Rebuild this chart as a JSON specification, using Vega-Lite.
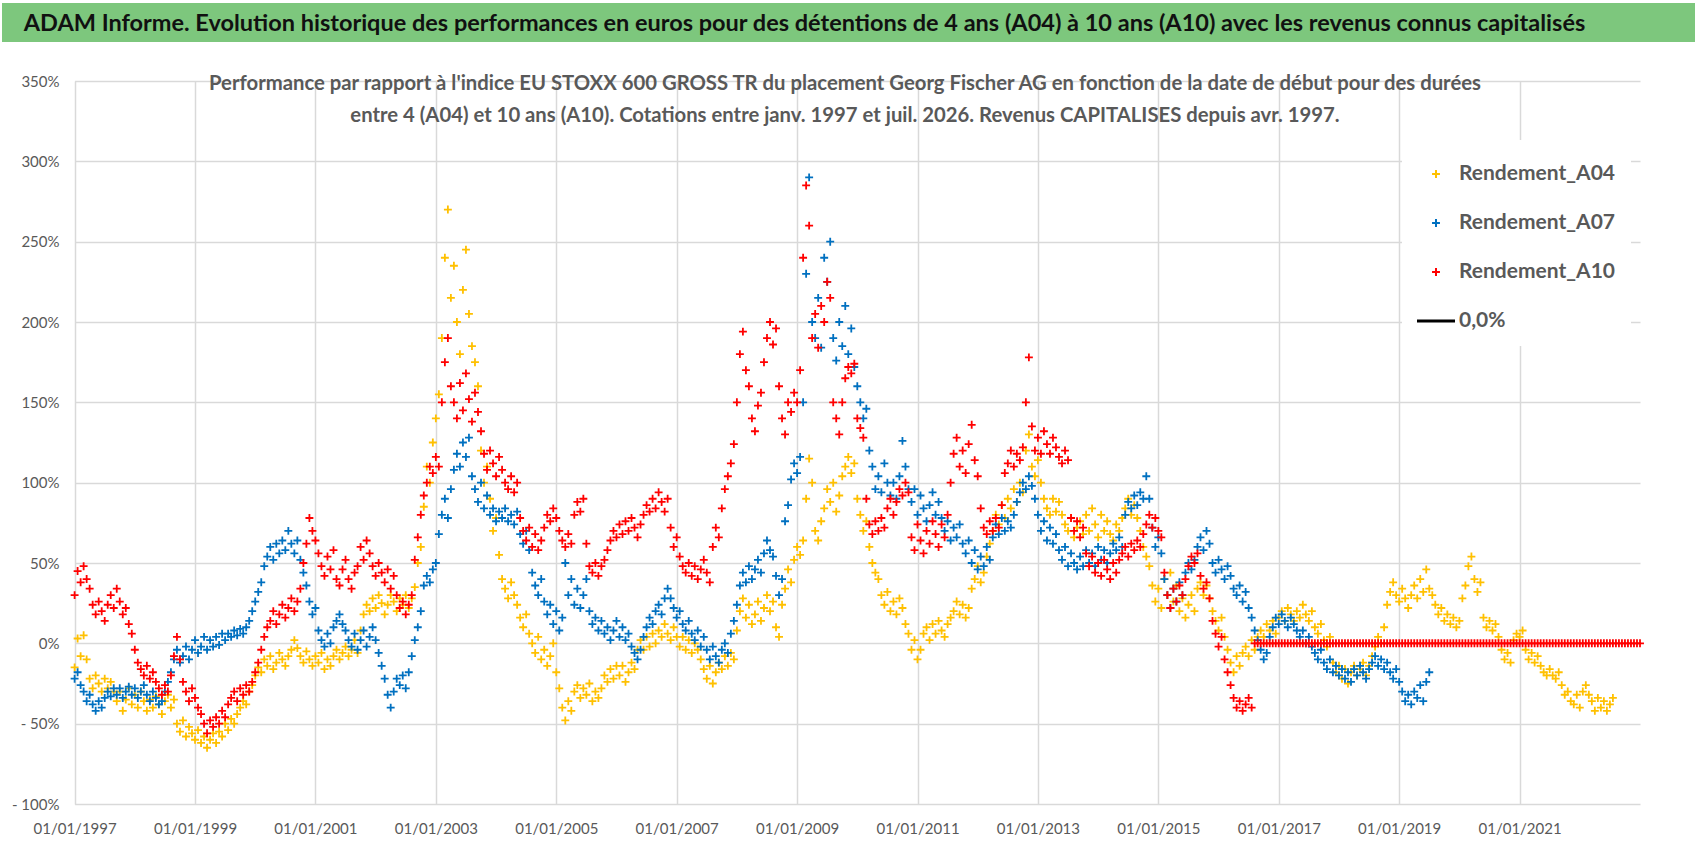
{
  "$schema": "https://vega.github.io/schema/vega-lite/v6.json",
  "background": "white",
  "padding": {"left": 2, "top": 3, "right": 3, "bottom": 0},
  "config": {
    "font": "Lato",
    "view": {"stroke": null}
  },
  "datasets": {
    "a04": [
      {"t":1997.00,"v":-15},{"t":1997.05,"v":3},{"t":1997.10,"v":-8},{"t":1997.15,"v":5},{"t":1997.20,"v":-10},{"t":1997.25,"v":-22},{"t":1997.30,"v":-28},{"t":1997.35,"v":-20},{"t":1997.40,"v":-25},{"t":1997.45,"v":-30},
      {"t":1997.50,"v":-22},{"t":1997.55,"v":-28},{"t":1997.60,"v":-24},{"t":1997.65,"v":-30},{"t":1997.70,"v":-36},{"t":1997.75,"v":-30},{"t":1997.80,"v":-42},{"t":1997.85,"v":-35},{"t":1997.90,"v":-28},{"t":1997.95,"v":-38},
      {"t":1998.00,"v":-32},{"t":1998.05,"v":-40},{"t":1998.10,"v":-30},{"t":1998.15,"v":-36},{"t":1998.20,"v":-42},{"t":1998.25,"v":-35},{"t":1998.30,"v":-40},{"t":1998.35,"v":-33},{"t":1998.40,"v":-38},{"t":1998.45,"v":-44},
      {"t":1998.50,"v":-36},{"t":1998.55,"v":-32},{"t":1998.60,"v":-40},{"t":1998.65,"v":-35},{"t":1998.70,"v":-50},{"t":1998.75,"v":-55},{"t":1998.80,"v":-48},{"t":1998.85,"v":-58},{"t":1998.90,"v":-52},{"t":1998.95,"v":-56},
      {"t":1999.00,"v":-60},{"t":1999.05,"v":-54},{"t":1999.10,"v":-62},{"t":1999.15,"v":-58},{"t":1999.20,"v":-65},{"t":1999.25,"v":-60},{"t":1999.30,"v":-56},{"t":1999.35,"v":-62},{"t":1999.40,"v":-55},{"t":1999.45,"v":-58},
      {"t":1999.50,"v":-50},{"t":1999.55,"v":-54},{"t":1999.60,"v":-47},{"t":1999.65,"v":-50},{"t":1999.70,"v":-44},{"t":1999.75,"v":-40},{"t":1999.80,"v":-36},{"t":1999.85,"v":-38},{"t":1999.90,"v":-30},{"t":1999.95,"v":-26},
      {"t":2000.00,"v":-20},{"t":2000.05,"v":-15},{"t":2000.10,"v":-18},{"t":2000.15,"v":-10},{"t":2000.20,"v":-14},{"t":2000.25,"v":-8},{"t":2000.30,"v":-16},{"t":2000.35,"v":-12},{"t":2000.40,"v":-6},{"t":2000.45,"v":-10},
      {"t":2000.50,"v":-14},{"t":2000.55,"v":-8},{"t":2000.60,"v":-4},{"t":2000.65,"v":2},{"t":2000.70,"v":-3},{"t":2000.75,"v":-8},{"t":2000.80,"v":-12},{"t":2000.85,"v":-5},{"t":2000.90,"v":-10},{"t":2000.95,"v":-14},
      {"t":2001.00,"v":-8},{"t":2001.05,"v":-12},{"t":2001.10,"v":-6},{"t":2001.15,"v":-16},{"t":2001.20,"v":-10},{"t":2001.25,"v":-14},{"t":2001.30,"v":-8},{"t":2001.35,"v":-4},{"t":2001.40,"v":-10},{"t":2001.45,"v":-6},
      {"t":2001.50,"v":-2},{"t":2001.55,"v":-8},{"t":2001.60,"v":-4},{"t":2001.65,"v":2},{"t":2001.70,"v":-6},{"t":2001.75,"v":8},{"t":2001.80,"v":18},{"t":2001.85,"v":24},{"t":2001.90,"v":20},{"t":2001.95,"v":28},
      {"t":2002.00,"v":22},{"t":2002.05,"v":30},{"t":2002.10,"v":25},{"t":2002.15,"v":18},{"t":2002.20,"v":24},{"t":2002.25,"v":30},{"t":2002.30,"v":26},{"t":2002.35,"v":20},{"t":2002.40,"v":28},{"t":2002.45,"v":24},
      {"t":2002.50,"v":30},{"t":2002.55,"v":22},{"t":2002.60,"v":28},{"t":2002.65,"v":35},{"t":2002.70,"v":50},{"t":2002.75,"v":60},{"t":2002.80,"v":85},{"t":2002.85,"v":110},{"t":2002.90,"v":100},{"t":2002.95,"v":125},
      {"t":2003.00,"v":140},{"t":2003.05,"v":155},{"t":2003.10,"v":190},{"t":2003.15,"v":240},{"t":2003.20,"v":270},{"t":2003.25,"v":215},{"t":2003.30,"v":235},{"t":2003.35,"v":200},{"t":2003.40,"v":180},{"t":2003.45,"v":220},
      {"t":2003.50,"v":245},{"t":2003.55,"v":205},{"t":2003.60,"v":185},{"t":2003.65,"v":175},{"t":2003.70,"v":160},{"t":2003.75,"v":120},{"t":2003.80,"v":100},{"t":2003.85,"v":110},{"t":2003.90,"v":90},{"t":2003.95,"v":70},
      {"t":2004.00,"v":78},{"t":2004.05,"v":55},{"t":2004.10,"v":40},{"t":2004.15,"v":34},{"t":2004.20,"v":28},{"t":2004.25,"v":38},{"t":2004.30,"v":30},{"t":2004.35,"v":24},{"t":2004.40,"v":16},{"t":2004.45,"v":10},
      {"t":2004.50,"v":18},{"t":2004.55,"v":6},{"t":2004.60,"v":0},{"t":2004.65,"v":-6},{"t":2004.70,"v":4},{"t":2004.75,"v":-10},{"t":2004.80,"v":-4},{"t":2004.85,"v":-14},{"t":2004.90,"v":-8},{"t":2004.95,"v":0},
      {"t":2005.00,"v":-18},{"t":2005.05,"v":-28},{"t":2005.10,"v":-40},{"t":2005.15,"v":-48},{"t":2005.20,"v":-36},{"t":2005.25,"v":-42},{"t":2005.30,"v":-30},{"t":2005.35,"v":-26},{"t":2005.40,"v":-34},{"t":2005.45,"v":-28},
      {"t":2005.50,"v":-32},{"t":2005.55,"v":-25},{"t":2005.60,"v":-36},{"t":2005.65,"v":-30},{"t":2005.70,"v":-34},{"t":2005.75,"v":-28},{"t":2005.80,"v":-20},{"t":2005.85,"v":-24},{"t":2005.90,"v":-16},{"t":2005.95,"v":-22},
      {"t":2006.00,"v":-14},{"t":2006.05,"v":-20},{"t":2006.10,"v":-14},{"t":2006.15,"v":-24},{"t":2006.20,"v":-18},{"t":2006.25,"v":-12},{"t":2006.30,"v":-16},{"t":2006.35,"v":-4},{"t":2006.40,"v":2},{"t":2006.45,"v":-4},
      {"t":2006.50,"v":4},{"t":2006.55,"v":-2},{"t":2006.60,"v":6},{"t":2006.65,"v":0},{"t":2006.70,"v":8},{"t":2006.75,"v":4},{"t":2006.80,"v":12},{"t":2006.85,"v":6},{"t":2006.90,"v":2},{"t":2006.95,"v":10},
      {"t":2007.00,"v":4},{"t":2007.05,"v":-2},{"t":2007.10,"v":4},{"t":2007.15,"v":-4},{"t":2007.20,"v":2},{"t":2007.25,"v":-6},{"t":2007.30,"v":0},{"t":2007.35,"v":-4},{"t":2007.40,"v":-10},{"t":2007.45,"v":-16},
      {"t":2007.50,"v":-22},{"t":2007.55,"v":-14},{"t":2007.60,"v":-25},{"t":2007.65,"v":-18},{"t":2007.70,"v":-12},{"t":2007.75,"v":-16},{"t":2007.80,"v":-8},{"t":2007.85,"v":-14},{"t":2007.90,"v":-6},{"t":2007.95,"v":-10},
      {"t":2008.00,"v":8},{"t":2008.05,"v":20},{"t":2008.10,"v":28},{"t":2008.15,"v":16},{"t":2008.20,"v":24},{"t":2008.25,"v":12},{"t":2008.30,"v":18},{"t":2008.35,"v":26},{"t":2008.40,"v":14},{"t":2008.45,"v":22},
      {"t":2008.50,"v":30},{"t":2008.55,"v":20},{"t":2008.60,"v":26},{"t":2008.65,"v":10},{"t":2008.70,"v":4},{"t":2008.75,"v":24},{"t":2008.80,"v":34},{"t":2008.85,"v":46},{"t":2008.90,"v":38},{"t":2008.95,"v":52},
      {"t":2009.00,"v":60},{"t":2009.05,"v":55},{"t":2009.10,"v":64},{"t":2009.15,"v":90},{"t":2009.20,"v":115},{"t":2009.25,"v":100},{"t":2009.30,"v":70},{"t":2009.35,"v":64},{"t":2009.40,"v":76},{"t":2009.45,"v":84},
      {"t":2009.50,"v":96},{"t":2009.55,"v":88},{"t":2009.60,"v":100},{"t":2009.65,"v":82},{"t":2009.70,"v":92},{"t":2009.75,"v":104},{"t":2009.80,"v":110},{"t":2009.85,"v":116},{"t":2009.90,"v":106},{"t":2009.95,"v":112},
      {"t":2010.00,"v":90},{"t":2010.05,"v":80},{"t":2010.10,"v":70},{"t":2010.15,"v":76},{"t":2010.20,"v":60},{"t":2010.25,"v":50},{"t":2010.30,"v":44},{"t":2010.35,"v":40},{"t":2010.40,"v":30},{"t":2010.45,"v":24},
      {"t":2010.50,"v":32},{"t":2010.55,"v":20},{"t":2010.60,"v":26},{"t":2010.65,"v":18},{"t":2010.70,"v":28},{"t":2010.75,"v":22},{"t":2010.80,"v":12},{"t":2010.85,"v":6},{"t":2010.90,"v":-4},{"t":2010.95,"v":2},
      {"t":2011.00,"v":-10},{"t":2011.05,"v":-4},{"t":2011.10,"v":6},{"t":2011.15,"v":10},{"t":2011.20,"v":2},{"t":2011.25,"v":12},{"t":2011.30,"v":6},{"t":2011.35,"v":14},{"t":2011.40,"v":8},{"t":2011.45,"v":4},
      {"t":2011.50,"v":12},{"t":2011.55,"v":16},{"t":2011.60,"v":20},{"t":2011.65,"v":26},{"t":2011.70,"v":18},{"t":2011.75,"v":24},{"t":2011.80,"v":16},{"t":2011.85,"v":22},{"t":2011.90,"v":34},{"t":2011.95,"v":40},
      {"t":2012.00,"v":48},{"t":2012.05,"v":38},{"t":2012.10,"v":44},{"t":2012.15,"v":54},{"t":2012.20,"v":62},{"t":2012.25,"v":70},{"t":2012.30,"v":80},{"t":2012.35,"v":74},{"t":2012.40,"v":86},{"t":2012.45,"v":78},
      {"t":2012.50,"v":90},{"t":2012.55,"v":84},{"t":2012.60,"v":96},{"t":2012.65,"v":88},{"t":2012.70,"v":100},{"t":2012.75,"v":94},{"t":2012.80,"v":120},{"t":2012.85,"v":130},{"t":2012.90,"v":110},{"t":2012.95,"v":104},
      {"t":2013.00,"v":114},{"t":2013.05,"v":100},{"t":2013.10,"v":90},{"t":2013.15,"v":84},{"t":2013.20,"v":80},{"t":2013.25,"v":90},{"t":2013.30,"v":82},{"t":2013.35,"v":88},{"t":2013.40,"v":80},{"t":2013.45,"v":74},
      {"t":2013.50,"v":70},{"t":2013.55,"v":78},{"t":2013.60,"v":66},{"t":2013.65,"v":72},{"t":2013.70,"v":76},{"t":2013.75,"v":68},{"t":2013.80,"v":80},{"t":2013.85,"v":70},{"t":2013.90,"v":84},{"t":2013.95,"v":74},
      {"t":2014.00,"v":66},{"t":2014.05,"v":80},{"t":2014.10,"v":70},{"t":2014.15,"v":76},{"t":2014.20,"v":68},{"t":2014.25,"v":64},{"t":2014.30,"v":74},{"t":2014.35,"v":70},{"t":2014.40,"v":78},{"t":2014.45,"v":84},
      {"t":2014.50,"v":90},{"t":2014.55,"v":80},{"t":2014.60,"v":86},{"t":2014.65,"v":78},{"t":2014.70,"v":70},{"t":2014.75,"v":60},{"t":2014.80,"v":54},{"t":2014.85,"v":48},{"t":2014.90,"v":36},{"t":2014.95,"v":26},
      {"t":2015.00,"v":34},{"t":2015.05,"v":22},{"t":2015.10,"v":40},{"t":2015.15,"v":30},{"t":2015.20,"v":44},{"t":2015.25,"v":26},{"t":2015.30,"v":36},{"t":2015.35,"v":20},{"t":2015.40,"v":28},{"t":2015.45,"v":16},
      {"t":2015.50,"v":24},{"t":2015.55,"v":30},{"t":2015.60,"v":20},{"t":2015.65,"v":34},{"t":2015.70,"v":38},{"t":2015.75,"v":30},{"t":2015.80,"v":36},{"t":2015.85,"v":28},{"t":2015.90,"v":20},{"t":2015.95,"v":14},
      {"t":2016.00,"v":8},{"t":2016.05,"v":16},{"t":2016.10,"v":4},{"t":2016.15,"v":-4},{"t":2016.20,"v":-12},{"t":2016.25,"v":-18},{"t":2016.30,"v":-8},{"t":2016.35,"v":-14},{"t":2016.40,"v":-6},{"t":2016.45,"v":-2},
      {"t":2016.50,"v":-8},{"t":2016.55,"v":2},{"t":2016.60,"v":-4},{"t":2016.65,"v":4},{"t":2016.70,"v":8},{"t":2016.75,"v":4},{"t":2016.80,"v":12},{"t":2016.85,"v":8},{"t":2016.90,"v":14},{"t":2016.95,"v":6},
      {"t":2017.00,"v":16},{"t":2017.05,"v":20},{"t":2017.10,"v":14},{"t":2017.15,"v":22},{"t":2017.20,"v":18},{"t":2017.25,"v":14},{"t":2017.30,"v":20},{"t":2017.35,"v":16},{"t":2017.40,"v":24},{"t":2017.45,"v":18},
      {"t":2017.50,"v":14},{"t":2017.55,"v":20},{"t":2017.60,"v":10},{"t":2017.65,"v":6},{"t":2017.70,"v":12},{"t":2017.75,"v":2},{"t":2017.80,"v":-2},{"t":2017.85,"v":4},{"t":2017.90,"v":-12},{"t":2017.95,"v":-18},
      {"t":2018.00,"v":-14},{"t":2018.05,"v":-22},{"t":2018.10,"v":-16},{"t":2018.15,"v":-25},{"t":2018.20,"v":-18},{"t":2018.25,"v":-14},{"t":2018.30,"v":-20},{"t":2018.35,"v":-16},{"t":2018.40,"v":-12},{"t":2018.45,"v":-20},
      {"t":2018.50,"v":-14},{"t":2018.55,"v":-8},{"t":2018.60,"v":-2},{"t":2018.65,"v":4},{"t":2018.70,"v":0},{"t":2018.75,"v":10},{"t":2018.80,"v":24},{"t":2018.85,"v":32},{"t":2018.90,"v":38},{"t":2018.95,"v":30},
      {"t":2019.00,"v":26},{"t":2019.05,"v":34},{"t":2019.10,"v":28},{"t":2019.15,"v":22},{"t":2019.20,"v":30},{"t":2019.25,"v":36},{"t":2019.30,"v":28},{"t":2019.35,"v":40},{"t":2019.40,"v":32},{"t":2019.45,"v":46},
      {"t":2019.50,"v":34},{"t":2019.55,"v":30},{"t":2019.60,"v":24},{"t":2019.65,"v":18},{"t":2019.70,"v":22},{"t":2019.75,"v":14},{"t":2019.80,"v":18},{"t":2019.85,"v":12},{"t":2019.90,"v":16},{"t":2019.95,"v":10},
      {"t":2020.00,"v":14},{"t":2020.05,"v":28},{"t":2020.10,"v":36},{"t":2020.15,"v":48},{"t":2020.20,"v":54},{"t":2020.25,"v":40},{"t":2020.30,"v":32},{"t":2020.35,"v":38},{"t":2020.40,"v":16},{"t":2020.45,"v":10},
      {"t":2020.50,"v":14},{"t":2020.55,"v":8},{"t":2020.60,"v":12},{"t":2020.65,"v":4},{"t":2020.70,"v":-4},{"t":2020.75,"v":-10},{"t":2020.80,"v":-6},{"t":2020.85,"v":-12},{"t":2020.90,"v":2},{"t":2020.95,"v":6},
      {"t":2021.00,"v":4},{"t":2021.05,"v":8},{"t":2021.10,"v":-4},{"t":2021.15,"v":-10},{"t":2021.20,"v":-6},{"t":2021.25,"v":-12},{"t":2021.30,"v":-8},{"t":2021.35,"v":-14},{"t":2021.40,"v":-18},{"t":2021.45,"v":-20},
      {"t":2021.50,"v":-16},{"t":2021.55,"v":-20},{"t":2021.60,"v":-22},{"t":2021.65,"v":-18},{"t":2021.70,"v":-26},{"t":2021.75,"v":-32},{"t":2021.80,"v":-30},{"t":2021.85,"v":-36},{"t":2021.90,"v":-38},{"t":2021.95,"v":-32},
      {"t":2022.00,"v":-40},{"t":2022.05,"v":-30},{"t":2022.10,"v":-26},{"t":2022.15,"v":-32},{"t":2022.20,"v":-36},{"t":2022.25,"v":-42},{"t":2022.30,"v":-34},{"t":2022.35,"v":-40},{"t":2022.40,"v":-36},{"t":2022.45,"v":-42},
      {"t":2022.50,"v":-38},{"t":2022.55,"v":-34}
    ],
    "a07": [
      {"t":1997.00,"v":-22},{"t":1997.05,"v":-18},{"t":1997.10,"v":-26},{"t":1997.15,"v":-30},{"t":1997.20,"v":-36},{"t":1997.25,"v":-32},{"t":1997.30,"v":-38},{"t":1997.35,"v":-42},{"t":1997.40,"v":-36},{"t":1997.45,"v":-40},
      {"t":1997.50,"v":-34},{"t":1997.55,"v":-30},{"t":1997.60,"v":-33},{"t":1997.65,"v":-28},{"t":1997.70,"v":-32},{"t":1997.75,"v":-28},{"t":1997.80,"v":-34},{"t":1997.85,"v":-30},{"t":1997.90,"v":-27},{"t":1997.95,"v":-32},
      {"t":1998.00,"v":-28},{"t":1998.05,"v":-34},{"t":1998.10,"v":-30},{"t":1998.15,"v":-26},{"t":1998.20,"v":-32},{"t":1998.25,"v":-36},{"t":1998.30,"v":-30},{"t":1998.35,"v":-34},{"t":1998.40,"v":-38},{"t":1998.45,"v":-36},
      {"t":1998.50,"v":-30},{"t":1998.55,"v":-24},{"t":1998.60,"v":-18},{"t":1998.65,"v":-10},{"t":1998.70,"v":-4},{"t":1998.75,"v":-12},{"t":1998.80,"v":-8},{"t":1998.85,"v":-2},{"t":1998.90,"v":-10},{"t":1998.95,"v":-4},
      {"t":1999.00,"v":2},{"t":1999.05,"v":-6},{"t":1999.10,"v":-2},{"t":1999.15,"v":4},{"t":1999.20,"v":-4},{"t":1999.25,"v":2},{"t":1999.30,"v":-2},{"t":1999.35,"v":4},{"t":1999.40,"v":-1},{"t":1999.45,"v":6},
      {"t":1999.50,"v":2},{"t":1999.55,"v":6},{"t":1999.60,"v":4},{"t":1999.65,"v":8},{"t":1999.70,"v":5},{"t":1999.75,"v":9},{"t":1999.80,"v":6},{"t":1999.85,"v":10},{"t":1999.90,"v":14},{"t":1999.95,"v":20},
      {"t":2000.00,"v":26},{"t":2000.05,"v":32},{"t":2000.10,"v":38},{"t":2000.15,"v":48},{"t":2000.20,"v":54},{"t":2000.25,"v":60},{"t":2000.30,"v":52},{"t":2000.35,"v":62},{"t":2000.40,"v":56},{"t":2000.45,"v":64},
      {"t":2000.50,"v":58},{"t":2000.55,"v":70},{"t":2000.60,"v":62},{"t":2000.65,"v":56},{"t":2000.70,"v":64},{"t":2000.75,"v":52},{"t":2000.80,"v":44},{"t":2000.85,"v":36},{"t":2000.90,"v":26},{"t":2000.95,"v":18},
      {"t":2001.00,"v":22},{"t":2001.05,"v":8},{"t":2001.10,"v":2},{"t":2001.15,"v":-2},{"t":2001.20,"v":6},{"t":2001.25,"v":0},{"t":2001.30,"v":10},{"t":2001.35,"v":14},{"t":2001.40,"v":18},{"t":2001.45,"v":12},
      {"t":2001.50,"v":8},{"t":2001.55,"v":2},{"t":2001.60,"v":-2},{"t":2001.65,"v":6},{"t":2001.70,"v":-4},{"t":2001.75,"v":2},{"t":2001.80,"v":8},{"t":2001.85,"v":-2},{"t":2001.90,"v":4},{"t":2001.95,"v":10},
      {"t":2002.00,"v":2},{"t":2002.05,"v":-6},{"t":2002.10,"v":-14},{"t":2002.15,"v":-22},{"t":2002.20,"v":-32},{"t":2002.25,"v":-40},{"t":2002.30,"v":-30},{"t":2002.35,"v":-22},{"t":2002.40,"v":-26},{"t":2002.45,"v":-20},
      {"t":2002.50,"v":-28},{"t":2002.55,"v":-18},{"t":2002.60,"v":-8},{"t":2002.65,"v":2},{"t":2002.70,"v":10},{"t":2002.75,"v":20},{"t":2002.80,"v":36},{"t":2002.85,"v":42},{"t":2002.90,"v":38},{"t":2002.95,"v":46},
      {"t":2003.00,"v":50},{"t":2003.05,"v":68},{"t":2003.10,"v":80},{"t":2003.15,"v":90},{"t":2003.20,"v":78},{"t":2003.25,"v":96},{"t":2003.30,"v":108},{"t":2003.35,"v":118},{"t":2003.40,"v":110},{"t":2003.45,"v":125},
      {"t":2003.50,"v":116},{"t":2003.55,"v":128},{"t":2003.60,"v":104},{"t":2003.65,"v":96},{"t":2003.70,"v":88},{"t":2003.75,"v":100},{"t":2003.80,"v":84},{"t":2003.85,"v":92},{"t":2003.90,"v":80},{"t":2003.95,"v":84},
      {"t":2004.00,"v":76},{"t":2004.05,"v":82},{"t":2004.10,"v":78},{"t":2004.15,"v":84},{"t":2004.20,"v":76},{"t":2004.25,"v":80},{"t":2004.30,"v":74},{"t":2004.35,"v":82},{"t":2004.40,"v":68},{"t":2004.45,"v":62},
      {"t":2004.50,"v":70},{"t":2004.55,"v":58},{"t":2004.60,"v":44},{"t":2004.65,"v":36},{"t":2004.70,"v":30},{"t":2004.75,"v":40},{"t":2004.80,"v":26},{"t":2004.85,"v":18},{"t":2004.90,"v":24},{"t":2004.95,"v":12},
      {"t":2005.00,"v":20},{"t":2005.05,"v":8},{"t":2005.10,"v":16},{"t":2005.15,"v":50},{"t":2005.20,"v":30},{"t":2005.25,"v":40},{"t":2005.30,"v":24},{"t":2005.35,"v":34},{"t":2005.40,"v":22},{"t":2005.45,"v":30},
      {"t":2005.50,"v":40},{"t":2005.55,"v":20},{"t":2005.60,"v":12},{"t":2005.65,"v":16},{"t":2005.70,"v":8},{"t":2005.75,"v":14},{"t":2005.80,"v":6},{"t":2005.85,"v":10},{"t":2005.90,"v":2},{"t":2005.95,"v":8},
      {"t":2006.00,"v":14},{"t":2006.05,"v":4},{"t":2006.10,"v":10},{"t":2006.15,"v":2},{"t":2006.20,"v":6},{"t":2006.25,"v":-2},{"t":2006.30,"v":-6},{"t":2006.35,"v":-10},{"t":2006.40,"v":-4},{"t":2006.45,"v":4},
      {"t":2006.50,"v":10},{"t":2006.55,"v":16},{"t":2006.60,"v":12},{"t":2006.65,"v":20},{"t":2006.70,"v":24},{"t":2006.75,"v":18},{"t":2006.80,"v":28},{"t":2006.85,"v":34},{"t":2006.90,"v":28},{"t":2006.95,"v":22},
      {"t":2007.00,"v":16},{"t":2007.05,"v":20},{"t":2007.10,"v":12},{"t":2007.15,"v":8},{"t":2007.20,"v":14},{"t":2007.25,"v":6},{"t":2007.30,"v":2},{"t":2007.35,"v":8},{"t":2007.40,"v":-2},{"t":2007.45,"v":4},
      {"t":2007.50,"v":-4},{"t":2007.55,"v":-10},{"t":2007.60,"v":-2},{"t":2007.65,"v":-8},{"t":2007.70,"v":-12},{"t":2007.75,"v":-4},{"t":2007.80,"v":0},{"t":2007.85,"v":-6},{"t":2007.90,"v":6},{"t":2007.95,"v":14},
      {"t":2008.00,"v":24},{"t":2008.05,"v":36},{"t":2008.10,"v":44},{"t":2008.15,"v":38},{"t":2008.20,"v":48},{"t":2008.25,"v":40},{"t":2008.30,"v":46},{"t":2008.35,"v":52},{"t":2008.40,"v":44},{"t":2008.45,"v":56},
      {"t":2008.50,"v":64},{"t":2008.55,"v":58},{"t":2008.60,"v":54},{"t":2008.65,"v":42},{"t":2008.70,"v":30},{"t":2008.75,"v":40},{"t":2008.80,"v":76},{"t":2008.85,"v":86},{"t":2008.90,"v":102},{"t":2008.95,"v":112},
      {"t":2009.00,"v":106},{"t":2009.05,"v":116},{"t":2009.10,"v":150},{"t":2009.15,"v":230},{"t":2009.20,"v":290},{"t":2009.25,"v":200},{"t":2009.30,"v":190},{"t":2009.35,"v":215},{"t":2009.40,"v":184},{"t":2009.45,"v":240},
      {"t":2009.50,"v":225},{"t":2009.55,"v":250},{"t":2009.60,"v":190},{"t":2009.65,"v":176},{"t":2009.70,"v":200},{"t":2009.75,"v":185},{"t":2009.80,"v":210},{"t":2009.85,"v":180},{"t":2009.90,"v":196},{"t":2009.95,"v":172},
      {"t":2010.00,"v":160},{"t":2010.05,"v":150},{"t":2010.10,"v":140},{"t":2010.15,"v":146},{"t":2010.20,"v":120},{"t":2010.25,"v":110},{"t":2010.30,"v":96},{"t":2010.35,"v":104},{"t":2010.40,"v":94},{"t":2010.45,"v":112},
      {"t":2010.50,"v":100},{"t":2010.55,"v":92},{"t":2010.60,"v":100},{"t":2010.65,"v":90},{"t":2010.70,"v":104},{"t":2010.75,"v":126},{"t":2010.80,"v":110},{"t":2010.85,"v":96},{"t":2010.90,"v":88},{"t":2010.95,"v":96},
      {"t":2011.00,"v":80},{"t":2011.05,"v":92},{"t":2011.10,"v":84},{"t":2011.15,"v":76},{"t":2011.20,"v":86},{"t":2011.25,"v":94},{"t":2011.30,"v":80},{"t":2011.35,"v":88},{"t":2011.40,"v":78},{"t":2011.45,"v":70},
      {"t":2011.50,"v":76},{"t":2011.55,"v":64},{"t":2011.60,"v":72},{"t":2011.65,"v":66},{"t":2011.70,"v":74},{"t":2011.75,"v":62},{"t":2011.80,"v":56},{"t":2011.85,"v":64},{"t":2011.90,"v":50},{"t":2011.95,"v":58},
      {"t":2012.00,"v":46},{"t":2012.05,"v":54},{"t":2012.10,"v":48},{"t":2012.15,"v":60},{"t":2012.20,"v":52},{"t":2012.25,"v":66},{"t":2012.30,"v":74},{"t":2012.35,"v":68},{"t":2012.40,"v":78},{"t":2012.45,"v":70},
      {"t":2012.50,"v":76},{"t":2012.55,"v":72},{"t":2012.60,"v":80},{"t":2012.65,"v":88},{"t":2012.70,"v":94},{"t":2012.75,"v":100},{"t":2012.80,"v":96},{"t":2012.85,"v":104},{"t":2012.90,"v":98},{"t":2012.95,"v":90},
      {"t":2013.00,"v":80},{"t":2013.05,"v":70},{"t":2013.10,"v":76},{"t":2013.15,"v":64},{"t":2013.20,"v":72},{"t":2013.25,"v":62},{"t":2013.30,"v":68},{"t":2013.35,"v":58},{"t":2013.40,"v":52},{"t":2013.45,"v":60},
      {"t":2013.50,"v":48},{"t":2013.55,"v":56},{"t":2013.60,"v":50},{"t":2013.65,"v":46},{"t":2013.70,"v":54},{"t":2013.75,"v":48},{"t":2013.80,"v":58},{"t":2013.85,"v":50},{"t":2013.90,"v":56},{"t":2013.95,"v":48},
      {"t":2014.00,"v":60},{"t":2014.05,"v":52},{"t":2014.10,"v":58},{"t":2014.15,"v":50},{"t":2014.20,"v":56},{"t":2014.25,"v":62},{"t":2014.30,"v":58},{"t":2014.35,"v":66},{"t":2014.40,"v":60},{"t":2014.45,"v":80},
      {"t":2014.50,"v":88},{"t":2014.55,"v":84},{"t":2014.60,"v":92},{"t":2014.65,"v":86},{"t":2014.70,"v":94},{"t":2014.75,"v":90},{"t":2014.80,"v":104},{"t":2014.85,"v":90},{"t":2014.90,"v":72},{"t":2014.95,"v":60},
      {"t":2015.00,"v":66},{"t":2015.05,"v":56},{"t":2015.10,"v":40},{"t":2015.15,"v":30},{"t":2015.20,"v":22},{"t":2015.25,"v":34},{"t":2015.30,"v":26},{"t":2015.35,"v":38},{"t":2015.40,"v":30},{"t":2015.45,"v":44},
      {"t":2015.50,"v":50},{"t":2015.55,"v":46},{"t":2015.60,"v":52},{"t":2015.65,"v":60},{"t":2015.70,"v":66},{"t":2015.75,"v":58},{"t":2015.80,"v":70},{"t":2015.85,"v":62},{"t":2015.90,"v":50},{"t":2015.95,"v":44},
      {"t":2016.00,"v":52},{"t":2016.05,"v":46},{"t":2016.10,"v":40},{"t":2016.15,"v":48},{"t":2016.20,"v":42},{"t":2016.25,"v":34},{"t":2016.30,"v":30},{"t":2016.35,"v":36},{"t":2016.40,"v":26},{"t":2016.45,"v":32},
      {"t":2016.50,"v":22},{"t":2016.55,"v":16},{"t":2016.60,"v":8},{"t":2016.65,"v":2},{"t":2016.70,"v":-4},{"t":2016.75,"v":-10},{"t":2016.80,"v":-6},{"t":2016.85,"v":4},{"t":2016.90,"v":10},{"t":2016.95,"v":16},
      {"t":2017.00,"v":12},{"t":2017.05,"v":18},{"t":2017.10,"v":14},{"t":2017.15,"v":10},{"t":2017.20,"v":16},{"t":2017.25,"v":12},{"t":2017.30,"v":8},{"t":2017.35,"v":4},{"t":2017.40,"v":8},{"t":2017.45,"v":0},
      {"t":2017.50,"v":4},{"t":2017.55,"v":-2},{"t":2017.60,"v":-6},{"t":2017.65,"v":-10},{"t":2017.70,"v":-4},{"t":2017.75,"v":-12},{"t":2017.80,"v":-16},{"t":2017.85,"v":-10},{"t":2017.90,"v":-18},{"t":2017.95,"v":-14},
      {"t":2018.00,"v":-20},{"t":2018.05,"v":-16},{"t":2018.10,"v":-22},{"t":2018.15,"v":-18},{"t":2018.20,"v":-24},{"t":2018.25,"v":-16},{"t":2018.30,"v":-20},{"t":2018.35,"v":-14},{"t":2018.40,"v":-18},{"t":2018.45,"v":-22},
      {"t":2018.50,"v":-16},{"t":2018.55,"v":-12},{"t":2018.60,"v":-8},{"t":2018.65,"v":-14},{"t":2018.70,"v":-10},{"t":2018.75,"v":-16},{"t":2018.80,"v":-12},{"t":2018.85,"v":-18},{"t":2018.90,"v":-22},{"t":2018.95,"v":-16},
      {"t":2019.00,"v":-24},{"t":2019.05,"v":-30},{"t":2019.10,"v":-36},{"t":2019.15,"v":-32},{"t":2019.20,"v":-38},{"t":2019.25,"v":-30},{"t":2019.30,"v":-34},{"t":2019.35,"v":-26},{"t":2019.40,"v":-36},{"t":2019.45,"v":-24},
      {"t":2019.50,"v":-18}
    ],
    "a10": [
      {"t":1997.00,"v":30},{"t":1997.05,"v":45},{"t":1997.10,"v":38},{"t":1997.15,"v":48},{"t":1997.20,"v":40},{"t":1997.25,"v":34},{"t":1997.30,"v":24},{"t":1997.35,"v":18},{"t":1997.40,"v":26},{"t":1997.45,"v":20},
      {"t":1997.50,"v":14},{"t":1997.55,"v":24},{"t":1997.60,"v":30},{"t":1997.65,"v":22},{"t":1997.70,"v":34},{"t":1997.75,"v":26},{"t":1997.80,"v":18},{"t":1997.85,"v":22},{"t":1997.90,"v":12},{"t":1997.95,"v":6},
      {"t":1998.00,"v":-4},{"t":1998.05,"v":-12},{"t":1998.10,"v":-16},{"t":1998.15,"v":-20},{"t":1998.20,"v":-14},{"t":1998.25,"v":-22},{"t":1998.30,"v":-18},{"t":1998.35,"v":-24},{"t":1998.40,"v":-28},{"t":1998.45,"v":-32},
      {"t":1998.50,"v":-26},{"t":1998.55,"v":-30},{"t":1998.60,"v":-20},{"t":1998.65,"v":-8},{"t":1998.70,"v":4},{"t":1998.75,"v":-10},{"t":1998.80,"v":-24},{"t":1998.85,"v":-30},{"t":1998.90,"v":-36},{"t":1998.95,"v":-28},
      {"t":1999.00,"v":-34},{"t":1999.05,"v":-40},{"t":1999.10,"v":-44},{"t":1999.15,"v":-50},{"t":1999.20,"v":-56},{"t":1999.25,"v":-48},{"t":1999.30,"v":-52},{"t":1999.35,"v":-46},{"t":1999.40,"v":-50},{"t":1999.45,"v":-42},
      {"t":1999.50,"v":-46},{"t":1999.55,"v":-38},{"t":1999.60,"v":-34},{"t":1999.65,"v":-30},{"t":1999.70,"v":-36},{"t":1999.75,"v":-28},{"t":1999.80,"v":-32},{"t":1999.85,"v":-26},{"t":1999.90,"v":-30},{"t":1999.95,"v":-24},
      {"t":2000.00,"v":-18},{"t":2000.05,"v":-12},{"t":2000.10,"v":-4},{"t":2000.15,"v":4},{"t":2000.20,"v":10},{"t":2000.25,"v":14},{"t":2000.30,"v":20},{"t":2000.35,"v":12},{"t":2000.40,"v":18},{"t":2000.45,"v":24},
      {"t":2000.50,"v":16},{"t":2000.55,"v":22},{"t":2000.60,"v":28},{"t":2000.65,"v":20},{"t":2000.70,"v":26},{"t":2000.75,"v":34},{"t":2000.80,"v":50},{"t":2000.85,"v":62},{"t":2000.90,"v":78},{"t":2000.95,"v":70},
      {"t":2001.00,"v":64},{"t":2001.05,"v":56},{"t":2001.10,"v":48},{"t":2001.15,"v":42},{"t":2001.20,"v":54},{"t":2001.25,"v":46},{"t":2001.30,"v":58},{"t":2001.35,"v":40},{"t":2001.40,"v":36},{"t":2001.45,"v":46},
      {"t":2001.50,"v":52},{"t":2001.55,"v":40},{"t":2001.60,"v":34},{"t":2001.65,"v":44},{"t":2001.70,"v":48},{"t":2001.75,"v":60},{"t":2001.80,"v":52},{"t":2001.85,"v":64},{"t":2001.90,"v":56},{"t":2001.95,"v":48},
      {"t":2002.00,"v":42},{"t":2002.05,"v":50},{"t":2002.10,"v":44},{"t":2002.15,"v":38},{"t":2002.20,"v":46},{"t":2002.25,"v":34},{"t":2002.30,"v":42},{"t":2002.35,"v":30},{"t":2002.40,"v":22},{"t":2002.45,"v":26},
      {"t":2002.50,"v":18},{"t":2002.55,"v":24},{"t":2002.60,"v":30},{"t":2002.65,"v":52},{"t":2002.70,"v":66},{"t":2002.75,"v":80},{"t":2002.80,"v":92},{"t":2002.85,"v":100},{"t":2002.90,"v":110},{"t":2002.95,"v":106},
      {"t":2003.00,"v":116},{"t":2003.05,"v":110},{"t":2003.10,"v":150},{"t":2003.15,"v":175},{"t":2003.20,"v":190},{"t":2003.25,"v":160},{"t":2003.30,"v":150},{"t":2003.35,"v":140},{"t":2003.40,"v":162},{"t":2003.45,"v":145},
      {"t":2003.50,"v":168},{"t":2003.55,"v":152},{"t":2003.60,"v":138},{"t":2003.65,"v":156},{"t":2003.70,"v":144},{"t":2003.75,"v":132},{"t":2003.80,"v":118},{"t":2003.85,"v":108},{"t":2003.90,"v":120},{"t":2003.95,"v":112},
      {"t":2004.00,"v":104},{"t":2004.05,"v":116},{"t":2004.10,"v":108},{"t":2004.15,"v":100},{"t":2004.20,"v":96},{"t":2004.25,"v":104},{"t":2004.30,"v":94},{"t":2004.35,"v":100},{"t":2004.40,"v":78},{"t":2004.45,"v":70},
      {"t":2004.50,"v":64},{"t":2004.55,"v":72},{"t":2004.60,"v":60},{"t":2004.65,"v":68},{"t":2004.70,"v":58},{"t":2004.75,"v":64},{"t":2004.80,"v":72},{"t":2004.85,"v":80},{"t":2004.90,"v":76},{"t":2004.95,"v":84},
      {"t":2005.00,"v":78},{"t":2005.05,"v":70},{"t":2005.10,"v":64},{"t":2005.15,"v":60},{"t":2005.20,"v":68},{"t":2005.25,"v":62},{"t":2005.30,"v":80},{"t":2005.35,"v":88},{"t":2005.40,"v":82},{"t":2005.45,"v":90},
      {"t":2005.50,"v":62},{"t":2005.55,"v":48},{"t":2005.60,"v":44},{"t":2005.65,"v":50},{"t":2005.70,"v":42},{"t":2005.75,"v":48},{"t":2005.80,"v":52},{"t":2005.85,"v":58},{"t":2005.90,"v":64},{"t":2005.95,"v":70},
      {"t":2006.00,"v":66},{"t":2006.05,"v":74},{"t":2006.10,"v":68},{"t":2006.15,"v":76},{"t":2006.20,"v":70},{"t":2006.25,"v":78},{"t":2006.30,"v":72},{"t":2006.35,"v":66},{"t":2006.40,"v":74},{"t":2006.45,"v":80},
      {"t":2006.50,"v":86},{"t":2006.55,"v":82},{"t":2006.60,"v":90},{"t":2006.65,"v":84},{"t":2006.70,"v":94},{"t":2006.75,"v":88},{"t":2006.80,"v":82},{"t":2006.85,"v":90},{"t":2006.90,"v":72},{"t":2006.95,"v":60},
      {"t":2007.00,"v":66},{"t":2007.05,"v":54},{"t":2007.10,"v":48},{"t":2007.15,"v":44},{"t":2007.20,"v":50},{"t":2007.25,"v":42},{"t":2007.30,"v":48},{"t":2007.35,"v":40},{"t":2007.40,"v":46},{"t":2007.45,"v":52},
      {"t":2007.50,"v":44},{"t":2007.55,"v":38},{"t":2007.60,"v":60},{"t":2007.65,"v":72},{"t":2007.70,"v":66},{"t":2007.75,"v":84},{"t":2007.80,"v":96},{"t":2007.85,"v":104},{"t":2007.90,"v":112},{"t":2007.95,"v":124},
      {"t":2008.00,"v":150},{"t":2008.05,"v":180},{"t":2008.10,"v":194},{"t":2008.15,"v":170},{"t":2008.20,"v":160},{"t":2008.25,"v":140},{"t":2008.30,"v":132},{"t":2008.35,"v":148},{"t":2008.40,"v":156},{"t":2008.45,"v":175},
      {"t":2008.50,"v":190},{"t":2008.55,"v":200},{"t":2008.60,"v":186},{"t":2008.65,"v":196},{"t":2008.70,"v":160},{"t":2008.75,"v":140},{"t":2008.80,"v":130},{"t":2008.85,"v":150},{"t":2008.90,"v":144},{"t":2008.95,"v":156},
      {"t":2009.00,"v":150},{"t":2009.05,"v":170},{"t":2009.10,"v":240},{"t":2009.15,"v":285},{"t":2009.20,"v":260},{"t":2009.25,"v":190},{"t":2009.30,"v":205},{"t":2009.35,"v":184},{"t":2009.40,"v":210},{"t":2009.45,"v":200},
      {"t":2009.50,"v":225},{"t":2009.55,"v":215},{"t":2009.60,"v":150},{"t":2009.65,"v":140},{"t":2009.70,"v":130},{"t":2009.75,"v":150},{"t":2009.80,"v":165},{"t":2009.85,"v":172},{"t":2009.90,"v":168},{"t":2009.95,"v":174},
      {"t":2010.00,"v":140},{"t":2010.05,"v":134},{"t":2010.10,"v":128},{"t":2010.15,"v":90},{"t":2010.20,"v":74},{"t":2010.25,"v":68},{"t":2010.30,"v":76},{"t":2010.35,"v":70},{"t":2010.40,"v":78},{"t":2010.45,"v":72},
      {"t":2010.50,"v":84},{"t":2010.55,"v":90},{"t":2010.60,"v":80},{"t":2010.65,"v":88},{"t":2010.70,"v":96},{"t":2010.75,"v":92},{"t":2010.80,"v":100},{"t":2010.85,"v":94},{"t":2010.90,"v":66},{"t":2010.95,"v":58},
      {"t":2011.00,"v":74},{"t":2011.05,"v":64},{"t":2011.10,"v":56},{"t":2011.15,"v":70},{"t":2011.20,"v":62},{"t":2011.25,"v":76},{"t":2011.30,"v":68},{"t":2011.35,"v":60},{"t":2011.40,"v":74},{"t":2011.45,"v":66},
      {"t":2011.50,"v":80},{"t":2011.55,"v":100},{"t":2011.60,"v":118},{"t":2011.65,"v":128},{"t":2011.70,"v":110},{"t":2011.75,"v":120},{"t":2011.80,"v":106},{"t":2011.85,"v":124},{"t":2011.90,"v":136},{"t":2011.95,"v":114},
      {"t":2012.00,"v":104},{"t":2012.05,"v":84},{"t":2012.10,"v":72},{"t":2012.15,"v":68},{"t":2012.20,"v":76},{"t":2012.25,"v":70},{"t":2012.30,"v":78},{"t":2012.35,"v":72},{"t":2012.40,"v":86},{"t":2012.45,"v":106},
      {"t":2012.50,"v":112},{"t":2012.55,"v":120},{"t":2012.60,"v":110},{"t":2012.65,"v":118},{"t":2012.70,"v":114},{"t":2012.75,"v":122},{"t":2012.80,"v":150},{"t":2012.85,"v":178},{"t":2012.90,"v":135},{"t":2012.95,"v":120},
      {"t":2013.00,"v":128},{"t":2013.05,"v":118},{"t":2013.10,"v":132},{"t":2013.15,"v":124},{"t":2013.20,"v":118},{"t":2013.25,"v":128},{"t":2013.30,"v":122},{"t":2013.35,"v":116},{"t":2013.40,"v":112},{"t":2013.45,"v":120},
      {"t":2013.50,"v":114},{"t":2013.55,"v":78},{"t":2013.60,"v":70},{"t":2013.65,"v":76},{"t":2013.70,"v":66},{"t":2013.75,"v":72},{"t":2013.80,"v":56},{"t":2013.85,"v":48},{"t":2013.90,"v":54},{"t":2013.95,"v":44},
      {"t":2014.00,"v":50},{"t":2014.05,"v":42},{"t":2014.10,"v":52},{"t":2014.15,"v":46},{"t":2014.20,"v":40},{"t":2014.25,"v":50},{"t":2014.30,"v":44},{"t":2014.35,"v":52},{"t":2014.40,"v":56},{"t":2014.45,"v":60},
      {"t":2014.50,"v":54},{"t":2014.55,"v":62},{"t":2014.60,"v":58},{"t":2014.65,"v":64},{"t":2014.70,"v":60},{"t":2014.75,"v":68},{"t":2014.80,"v":74},{"t":2014.85,"v":80},{"t":2014.90,"v":72},{"t":2014.95,"v":78},
      {"t":2015.00,"v":70},{"t":2015.05,"v":66},{"t":2015.10,"v":44},{"t":2015.15,"v":30},{"t":2015.20,"v":22},{"t":2015.25,"v":34},{"t":2015.30,"v":26},{"t":2015.35,"v":36},{"t":2015.40,"v":30},{"t":2015.45,"v":40},
      {"t":2015.50,"v":48},{"t":2015.55,"v":54},{"t":2015.60,"v":50},{"t":2015.65,"v":56},{"t":2015.70,"v":42},{"t":2015.75,"v":34},{"t":2015.80,"v":38},{"t":2015.85,"v":28},{"t":2015.90,"v":14},{"t":2015.95,"v":6},
      {"t":2016.00,"v":-2},{"t":2016.05,"v":4},{"t":2016.10,"v":-10},{"t":2016.15,"v":-18},{"t":2016.20,"v":-26},{"t":2016.25,"v":-34},{"t":2016.30,"v":-40},{"t":2016.35,"v":-36},{"t":2016.40,"v":-42},{"t":2016.45,"v":-38},
      {"t":2016.50,"v":-34},{"t":2016.55,"v":-40},
      {"t":2016.60,"v":0},{"t":2016.65,"v":0},{"t":2016.70,"v":0},{"t":2016.75,"v":0},{"t":2016.80,"v":0},{"t":2016.85,"v":0},{"t":2016.90,"v":0},{"t":2016.95,"v":0},
      {"t":2017.00,"v":0},{"t":2017.05,"v":0},{"t":2017.10,"v":0},{"t":2017.15,"v":0},{"t":2017.20,"v":0},{"t":2017.25,"v":0},{"t":2017.30,"v":0},{"t":2017.35,"v":0},{"t":2017.40,"v":0},{"t":2017.45,"v":0},
      {"t":2017.50,"v":0},{"t":2017.55,"v":0},{"t":2017.60,"v":0},{"t":2017.65,"v":0},{"t":2017.70,"v":0},{"t":2017.75,"v":0},{"t":2017.80,"v":0},{"t":2017.85,"v":0},{"t":2017.90,"v":0},{"t":2017.95,"v":0},
      {"t":2018.00,"v":0},{"t":2018.05,"v":0},{"t":2018.10,"v":0},{"t":2018.15,"v":0},{"t":2018.20,"v":0},{"t":2018.25,"v":0},{"t":2018.30,"v":0},{"t":2018.35,"v":0},{"t":2018.40,"v":0},{"t":2018.45,"v":0},
      {"t":2018.50,"v":0},{"t":2018.55,"v":0},{"t":2018.60,"v":0},{"t":2018.65,"v":0},{"t":2018.70,"v":0},{"t":2018.75,"v":0},{"t":2018.80,"v":0},{"t":2018.85,"v":0},{"t":2018.90,"v":0},{"t":2018.95,"v":0},
      {"t":2019.00,"v":0},{"t":2019.05,"v":0},{"t":2019.10,"v":0},{"t":2019.15,"v":0},{"t":2019.20,"v":0},{"t":2019.25,"v":0},{"t":2019.30,"v":0},{"t":2019.35,"v":0},{"t":2019.40,"v":0},{"t":2019.45,"v":0},
      {"t":2019.50,"v":0},{"t":2019.55,"v":0},{"t":2019.60,"v":0},{"t":2019.65,"v":0},{"t":2019.70,"v":0},{"t":2019.75,"v":0},{"t":2019.80,"v":0},{"t":2019.85,"v":0},{"t":2019.90,"v":0},{"t":2019.95,"v":0},
      {"t":2020.00,"v":0},{"t":2020.05,"v":0},{"t":2020.10,"v":0},{"t":2020.15,"v":0},{"t":2020.20,"v":0},{"t":2020.25,"v":0},{"t":2020.30,"v":0},{"t":2020.35,"v":0},{"t":2020.40,"v":0},{"t":2020.45,"v":0},
      {"t":2020.50,"v":0},{"t":2020.55,"v":0},{"t":2020.60,"v":0},{"t":2020.65,"v":0},{"t":2020.70,"v":0},{"t":2020.75,"v":0},{"t":2020.80,"v":0},{"t":2020.85,"v":0},{"t":2020.90,"v":0},{"t":2020.95,"v":0},
      {"t":2021.00,"v":0},{"t":2021.05,"v":0},{"t":2021.10,"v":0},{"t":2021.15,"v":0},{"t":2021.20,"v":0},{"t":2021.25,"v":0},{"t":2021.30,"v":0},{"t":2021.35,"v":0},{"t":2021.40,"v":0},{"t":2021.45,"v":0},
      {"t":2021.50,"v":0},{"t":2021.55,"v":0},{"t":2021.60,"v":0},{"t":2021.65,"v":0},{"t":2021.70,"v":0},{"t":2021.75,"v":0},{"t":2021.80,"v":0},{"t":2021.85,"v":0},{"t":2021.90,"v":0},{"t":2021.95,"v":0},
      {"t":2022.00,"v":0},{"t":2022.05,"v":0},{"t":2022.10,"v":0},{"t":2022.15,"v":0},{"t":2022.20,"v":0},{"t":2022.25,"v":0},{"t":2022.30,"v":0},{"t":2022.35,"v":0},{"t":2022.40,"v":0},{"t":2022.45,"v":0},
      {"t":2022.50,"v":0},{"t":2022.55,"v":0},{"t":2022.60,"v":0},{"t":2022.65,"v":0},{"t":2022.70,"v":0},{"t":2022.75,"v":0},{"t":2022.80,"v":0},{"t":2022.85,"v":0},{"t":2022.90,"v":0},{"t":2022.95,"v":0},
      {"t":2023.00,"v":0}
    ]
  },
  "spacing": 31,
  "vconcat": [
    {
      "width": 1693,
      "height": 39,
      "view": {"fill": "#7DC77D", "stroke": null},
      "data": {"values": [{"titre": "ADAM Informe. Evolution historique des performances en euros pour des détentions de 4 ans (A04) à 10 ans (A10) avec les revenus connus capitalisés"}]},
      "mark": {"type": "text", "font": "Lato", "fontSize": 23.5, "fontWeight": "bold", "color": "#111111", "baseline": "middle", "dx": -44, "dy": 1},
      "encoding": {"text": {"field": "titre"}}
    },
    {
      "width": 1638,
      "height": 723,
      "title": {
        "text": [
          "Performance par rapport à l'indice EU STOXX 600 GROSS TR  du placement Georg Fischer AG en fonction de la date de début pour des durées",
          "entre 4 (A04) et 10 ans (A10). Cotations entre janv. 1997 et juil. 2026. Revenus CAPITALISES depuis avr. 1997."
        ],
        "font": "Lato",
        "fontSize": 20.3,
        "fontWeight": "bold",
        "color": "#595959",
        "anchor": "middle",
        "lineHeight": 32,
        "offset": -52,
        "dx": 24
      },
      "layer": [
        {
          "mark": {"type": "rule", "color": "#BFBFBF", "strokeWidth": 1.5},
          "encoding": {
            "x": {"datum": 1997, "type": "quantitative"},
            "x2": {"datum": 2023},
            "y": {"datum": -54.5, "type": "quantitative"}
          }
        },
        {
          "data": {"name": "a04"},
          "mark": {"type": "point", "filled": false, "strokeWidth": 1.8, "size": 1296, "opacity": 1},
          "encoding": {
            "x": {
              "field": "t", "type": "quantitative",
              "scale": {"domain": [1997, 2023], "range": [72.6, 1638], "nice": false, "zero": false},
              "axis": {
                "title": null, "values": [1997, 1999, 2001, 2003, 2005, 2007, 2009, 2011, 2013, 2015, 2017, 2019, 2021],
                "labelExpr": "'01/01/' + datum.value", "labelOverlap": false, "labelFlush": false,
                "grid": true, "gridColor": "#D9D9D9", "gridWidth": 1.5, "ticks": false, "domain": false,
                "labelFont": "Lato", "labelFontSize": 15, "labelColor": "#595959", "labelPadding": 17
              }
            },
            "y": {
              "field": "v", "type": "quantitative",
              "scale": {"domain": [-100, 350], "nice": false, "zero": false},
              "axis": {
                "title": null, "values": [-100, -50, 0, 50, 100, 150, 200, 250, 300, 350],
                "labelExpr": "datum.value < 0 ? '- ' + abs(datum.value) + '%' : datum.value + '%'", "labelOverlap": false,
                "grid": true, "gridColor": "#D9D9D9", "gridWidth": 1.5, "ticks": false, "domain": false,
                "labelFont": "Lato", "labelFontSize": 15, "labelColor": "#595959", "labelPadding": -57, "labelAlign": "right"
              }
            },
            "color": {
              "datum": "Rendement_A04",
              "scale": {"domain": ["Rendement_A04", "Rendement_A07", "Rendement_A10", "0,0%"], "range": ["#FFC000", "#0070C0", "#FF0000", "#000000"]},
              "legend": {"title": null, "orient": "none", "legendX": 1400, "legendY": 137, "fillColor": "white", "padding": 15, "rowPadding": 20, "labelOffset": 4, "labelLimit": 400, "symbolSize": 1296, "symbolStrokeWidth": 2, "labelFont": "Lato", "labelFontSize": 21, "labelFontWeight": "bold", "labelColor": "#595959"}
            },
            "shape": {
              "datum": "Rendement_A04",
              "scale": {"domain": ["Rendement_A04", "Rendement_A07", "Rendement_A10", "0,0%"], "range": ["M-0.22,0H0.22M0,-0.22V0.22", "M-0.22,0H0.22M0,-0.22V0.22", "M-0.22,0H0.22M0,-0.22V0.22", "M-1,-0.03H1V0.03H-1Z"]},
              "legend": {"title": null, "orient": "none", "legendX": 1400, "legendY": 137, "fillColor": "white", "padding": 15, "rowPadding": 20, "labelOffset": 4, "labelLimit": 400, "symbolSize": 1296, "symbolStrokeWidth": 2, "labelFont": "Lato", "labelFontSize": 21, "labelFontWeight": "bold", "labelColor": "#595959"}
            }
          }
        },
        {
          "data": {"name": "a07"},
          "mark": {"type": "point", "filled": false, "strokeWidth": 1.8, "size": 1296, "opacity": 1},
          "encoding": {
            "x": {"field": "t", "type": "quantitative"},
            "y": {"field": "v", "type": "quantitative"},
            "color": {"datum": "Rendement_A07"},
            "shape": {"datum": "Rendement_A07"}
          }
        },
        {
          "data": {"name": "a10"},
          "mark": {"type": "point", "filled": false, "strokeWidth": 1.8, "size": 1296, "opacity": 1},
          "encoding": {
            "x": {"field": "t", "type": "quantitative"},
            "y": {"field": "v", "type": "quantitative"},
            "color": {"datum": "Rendement_A10"},
            "shape": {"datum": "Rendement_A10"}
          }
        },
        {
          "mark": {"type": "rule", "color": "#000000", "strokeWidth": 4},
          "encoding": {
            "x": {"datum": 1997, "type": "quantitative"},
            "x2": {"datum": 2016.56},
            "y": {"datum": 0, "type": "quantitative"}
          }
        }
      ]
    }
  ]
}
